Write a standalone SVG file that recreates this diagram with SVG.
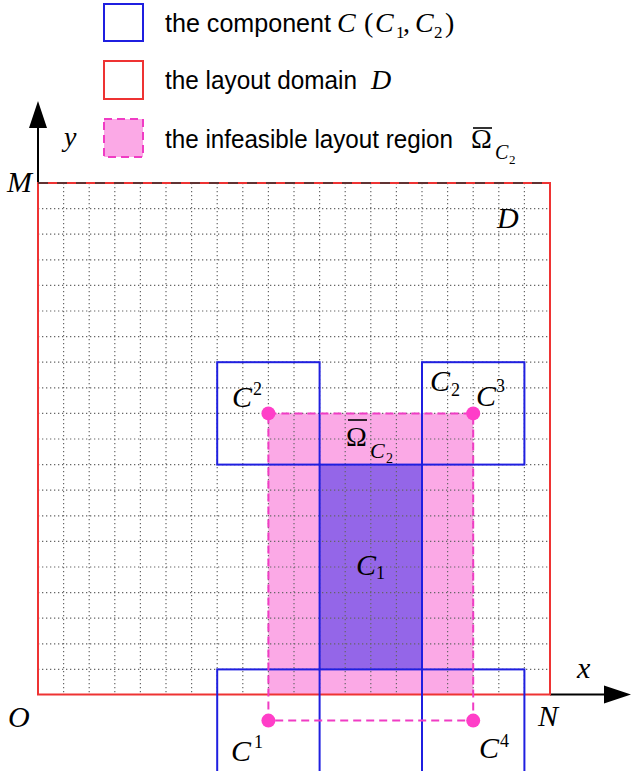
<svg xmlns="http://www.w3.org/2000/svg" width="631" height="771" viewBox="0 0 631 771">
<style>
.sans{font-family:"Liberation Sans",Arial,sans-serif;font-size:25px;fill:#000}
.m{font-family:"Liberation Serif","Times New Roman",serif;font-style:italic;fill:#000}
.up{font-family:"Liberation Serif","Times New Roman",serif;font-style:normal;fill:#000}
.grid{stroke:#666;stroke-width:1.2;stroke-dasharray:1.3 2.7;fill:none}
.blue{stroke:#1f1fe0;stroke-width:2;fill:none}
.red{stroke:#ee3333;stroke-width:2;fill:none}
.pdash{stroke:#f03cc4;stroke-width:2;stroke-dasharray:8 5}
.dot{fill:#ff3ec8}
.axis{stroke:#000;stroke-width:2;fill:none}
</style>
<defs>
<clipPath id="dom"><rect x="38" y="183" width="512" height="511.5"/></clipPath>
</defs>

<g id="legend">
  <rect x="104" y="4" width="39" height="37" class="blue"/>
  <rect x="104" y="61" width="39" height="38" class="red"/>
  <rect x="104" y="119" width="39" height="38" class="pdash" style="fill:#fba9e6"/>
  <text class="sans" x="165" y="32" textLength="166" lengthAdjust="spacingAndGlyphs">the component</text>
  <text class="m" font-size="28" x="337" y="32">C</text>
  <text class="up" font-size="28" x="364" y="32">(</text>
  <text class="m" font-size="28" x="375" y="32">C</text>
  <text class="up" font-size="17" x="396" y="38">1</text>
  <text class="up" font-size="28" x="403" y="32">,</text>
  <text class="m" font-size="28" x="415" y="32">C</text>
  <text class="up" font-size="17" x="434" y="38">2</text>
  <text class="up" font-size="28" x="445" y="32">)</text>
  <text class="sans" x="165" y="89" textLength="192" lengthAdjust="spacingAndGlyphs">the layout domain</text>
  <text class="m" font-size="28" x="371" y="89">D</text>
  <text class="sans" x="165" y="148" textLength="288" lengthAdjust="spacingAndGlyphs">the infeasible layout region</text>
  <text class="up" font-size="28" x="471" y="148">Ω</text>
  <line x1="473" y1="128" x2="492" y2="128" stroke="#000" stroke-width="1.6"/>
  <text class="m" font-size="20" x="495" y="159">C</text>
  <text class="up" font-size="13" x="509" y="164">2</text>
</g>

<g id="infeasible-region">
  <rect x="268.4" y="413.4" width="204.8" height="281.2" fill="#fba9e6" clip-path="url(#dom)"/>
</g>

<g id="C1-fill">
  <rect x="319.6" y="464.6" width="102.4" height="204.8" fill="#9466e8"/>
</g>

<g id="grid">
  <path class="grid" d="M63.6 183V694.5M89.2 183V694.5M114.8 183V694.5M140.4 183V694.5M166 183V694.5M191.6 183V694.5M217.2 183V694.5M242.8 183V694.5M268.4 183V694.5M294 183V694.5M319.6 183V694.5M345.2 183V694.5M370.8 183V694.5M396.4 183V694.5M422 183V694.5M447.6 183V694.5M473.2 183V694.5M498.8 183V694.5M524.4 183V694.5"/>
  <path class="grid" d="M38 208.6H550M38 234.2H550M38 259.8H550M38 285.4H550M38 311H550M38 336.6H550M38 362.2H550M38 387.8H550M38 413.4H550M38 439H550M38 464.6H550M38 490.2H550M38 515.8H550M38 541.4H550M38 567H550M38 592.6H550M38 618.2H550M38 643.8H550M38 669.4H550"/>
</g>

<g id="connectors">
  <line x1="38" y1="183" x2="38" y2="126" class="axis"/>
  <polygon points="38,101 29,128 47,128" fill="#000"/>
  <line x1="550" y1="694.5" x2="606" y2="694.5" class="axis"/>
  <polygon points="631,694.5 604,685.5 604,703.5" fill="#000"/>
</g>

<g id="domain-D">
  <rect x="38" y="183" width="512" height="511.5" class="red"/>
  <line x1="38" y1="183" x2="550" y2="183" stroke="#333" stroke-width="1.6" stroke-dasharray="10 9"/>
</g>

<g id="component-C1">
  <rect x="319.6" y="464.6" width="102.4" height="204.8" class="blue"/>
</g>

<g id="C2-position-1">
  <rect x="217.2" y="669.4" width="102.4" height="104" class="blue"/>
</g>
<g id="C2-position-2">
  <rect x="217.2" y="362.2" width="102.4" height="102.4" class="blue"/>
</g>
<g id="C2-position-3">
  <rect x="422" y="362.2" width="102.4" height="102.4" class="blue"/>
</g>
<g id="C2-position-4">
  <rect x="422" y="669.4" width="102.4" height="104" class="blue"/>
</g>

<g id="infeasible-outline">
  <rect x="268.4" y="413.4" width="204.8" height="307.2" class="pdash" style="fill:none"/>
  <circle cx="268.4" cy="413.4" r="7" class="dot"/>
  <circle cx="473.2" cy="413.4" r="7" class="dot"/>
  <circle cx="268.4" cy="720.6" r="7" class="dot"/>
  <circle cx="473.2" cy="720.6" r="7" class="dot"/>
</g>

<g id="labels">
  <text class="m" font-size="28" x="64" y="146">y</text>
  <text class="m" font-size="30" x="7" y="192">M</text>
  <text class="m" font-size="30" x="8" y="727">O</text>
  <text class="m" font-size="30" x="538" y="726">N</text>
  <text class="m" font-size="30" x="577" y="678">x</text>
  <text class="m" font-size="30" x="497" y="228">D</text>
  <text class="m" font-size="30" x="231" y="761">C</text>
  <text class="up" font-size="18" x="254" y="748">1</text>
  <text class="m" font-size="30" x="479" y="758">C</text>
  <text class="up" font-size="18" x="500" y="747">4</text>
  <text class="m" font-size="30" x="232" y="407">C</text>
  <text class="up" font-size="18" x="253" y="395">2</text>
  <text class="m" font-size="30" x="476" y="406">C</text>
  <text class="up" font-size="18" x="496" y="392">3</text>
  <text class="m" font-size="30" x="430" y="391">C</text>
  <text class="up" font-size="18" x="451" y="396">2</text>
  <text class="m" font-size="30" x="356" y="575">C</text>
  <text class="up" font-size="18" x="376" y="579">1</text>
  <text class="up" font-size="28" x="346" y="446">Ω</text>
  <line x1="348" y1="420" x2="367" y2="420" stroke="#000" stroke-width="1.6"/>
  <text class="m" font-size="22" x="370" y="458">C</text>
  <text class="up" font-size="14" x="386" y="463">2</text>
</g>
</svg>
